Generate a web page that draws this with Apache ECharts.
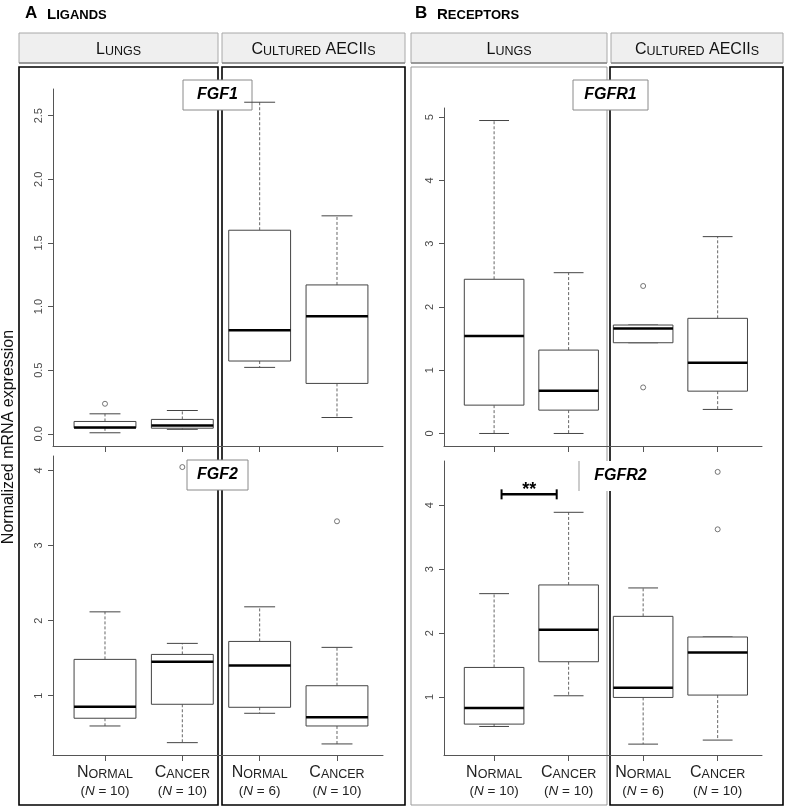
<!DOCTYPE html>
<html><head><meta charset="utf-8">
<script src="https://cdn.jsdelivr.net/npm/echarts@6/dist/echarts.min.js"></script>
<style>html,body{margin:0;padding:0;background:#fff}#c{width:785px;height:808px}</style>
</head><body><div id="c"></div>
<script>
// ---------------- data ----------------
const groups = ['Normal', 'Cancer', 'Normal', 'Cancer'];
const sampleSizes = [10, 10, 6, 10];
const positions = [1, 2, 3, 4];
const sources = ['Lungs', 'Cultured AECIIs'];
const panelTitles = ['A', 'Ligands', 'B', 'Receptors'];
const genes = ['FGF1', 'FGF2', 'FGFR1', 'FGFR2'];
const yLabel = 'Normalized mRNA expression';

// each row: [lower whisker, Q1, median, Q3, upper whisker]
const fgf1Stats = [
  [0.008, 0.047, 0.050, 0.097, 0.157],
  [0.035, 0.044, 0.065, 0.113, 0.183],
  [0.522, 0.572, 0.813, 1.600, 2.606],
  [0.128, 0.396, 0.924, 1.170, 1.713]
];
const fgf1Outliers = [[1, 0.236]];

const fgf2Stats = [
  [0.597, 0.700, 0.854, 1.484, 2.117],
  [0.375, 0.886, 1.452, 1.550, 1.697],
  [0.766, 0.846, 1.404, 1.723, 2.184],
  [0.358, 0.597, 0.713, 1.133, 1.644]
];
const fgf2Outliers = [[2, 4.045], [4, 3.323]];

const fgfr1Stats = [
  [0.000, 0.448, 1.540, 2.437, 4.946],
  [0.000, 0.369, 0.675, 1.318, 2.541],
  [1.434, 1.434, 1.660, 1.714, 1.714],
  [0.380, 0.669, 1.117, 1.820, 3.111]
];
const fgfr1Outliers = [[3, 2.331], [3, 0.728]];

const fgfr2Stats = [
  [0.540, 0.577, 0.828, 1.463, 2.617],
  [1.020, 1.552, 2.053, 2.753, 3.889],
  [0.264, 0.994, 1.146, 2.262, 2.706],
  [0.327, 1.031, 1.698, 1.939, 1.939]
];
const fgfr2Outliers = [[4, 4.521], [4, 3.623]];

const fgf1Ticks = [0, 0.5, 1, 1.5, 2, 2.5];
const fgf2Ticks = [1, 2, 3, 4];
const fgfr1Ticks = [0, 1, 2, 3, 4, 5];
const fgfr2Ticks = [1, 2, 3, 4];

// significance bracket on FGFR2 lungs: [x start, x end, y level]
const sigBracket = [1.10, 1.84, 4.17];
const sigText = '**';

// ---------------- layout ----------------
const FF = '"Liberation Sans", Arial, sans-serif';
const X_MIN = 0.3276, X_MAX = 4.595;
const panels = [
  { stats: fgf1Stats, out: fgf1Outliers, ticks: fgf1Ticks, dec: 1, grid: { left: 53, top: 89, width: 330, height: 357 }, showX: false },
  { stats: fgf2Stats, out: fgf2Outliers, ticks: fgf2Ticks, dec: 0, grid: { left: 53, top: 456, width: 330, height: 299 }, showX: true },
  { stats: fgfr1Stats, out: fgfr1Outliers, ticks: fgfr1Ticks, dec: 0, grid: { left: 444, top: 108, width: 318, height: 338 }, showX: false },
  { stats: fgfr2Stats, out: fgfr2Outliers, ticks: fgfr2Ticks, dec: 0, grid: { left: 444, top: 461, width: 318, height: 294 }, showX: true }
];

function smallCaps(str) {
  let out = '', cur = null, buf = '';
  for (const ch of str) {
    const cls = (ch >= 'a' && ch <= 'z') ? 's' : 'b';
    const c = cls === 's' ? ch.toUpperCase() : ch;
    if (cls !== cur && buf) { out += '{' + cur + '|' + buf + '}'; buf = ''; }
    cur = cls; buf += c;
  }
  if (buf) out += '{' + cur + '|' + buf + '}';
  return out;
}

function renderBox(params, api) {
  const x = api.value(0);
  const unit = api.size([1, 0])[0];
  const hw = unit * 0.4, cw = unit * 0.2;
  const c = v => api.coord([x, v]);
  const cx = c(api.value(1))[0];
  const yLo = c(api.value(1))[1], yQ1 = c(api.value(2))[1], yMed = c(api.value(3))[1],
        yQ3 = c(api.value(4))[1], yHi = c(api.value(5))[1];
  const dash = { stroke: '#666', lineWidth: 1, lineDash: [3, 2] };
  const solid = { stroke: '#444', lineWidth: 1 };
  return { type: 'group', children: [
    { type: 'line', shape: { x1: cx, y1: yQ3, x2: cx, y2: yHi }, style: dash },
    { type: 'line', shape: { x1: cx, y1: yQ1, x2: cx, y2: yLo }, style: dash },
    { type: 'line', shape: { x1: cx - cw, y1: yHi, x2: cx + cw, y2: yHi }, style: solid },
    { type: 'line', shape: { x1: cx - cw, y1: yLo, x2: cx + cw, y2: yLo }, style: solid },
    { type: 'rect', shape: { x: cx - hw, y: yQ3, width: 2 * hw, height: yQ1 - yQ3 }, style: { fill: '#fff', stroke: '#444', lineWidth: 1 } },
    { type: 'line', shape: { x1: cx - hw, y1: yMed, x2: cx + hw, y2: yMed }, style: { stroke: '#000', lineWidth: 2.5 } }
  ] };
}

function renderBracket(params, api) {
  const p1 = api.coord([api.value(0), api.value(2)]);
  const p2 = api.coord([api.value(1), api.value(2)]);
  const st = { stroke: '#000', lineWidth: 2.5 };
  return { type: 'group', children: [
    { type: 'line', shape: { x1: p1[0], y1: p1[1], x2: p2[0], y2: p2[1] }, style: st },
    { type: 'line', shape: { x1: p1[0], y1: p1[1] - 5, x2: p1[0], y2: p1[1] + 5 }, style: { stroke: '#000', lineWidth: 2 } },
    { type: 'line', shape: { x1: p2[0], y1: p2[1] - 5, x2: p2[0], y2: p2[1] + 5 }, style: { stroke: '#000', lineWidth: 2 } },
    { type: 'text', x: (p1[0] + p2[0]) / 2, y: p1[1] - 4, style: { text: sigText, fontSize: 18, fontWeight: 'bold', fontFamily: FF, fill: '#000', align: 'center', verticalAlign: 'middle' } }
  ] };
}

const grids = [], xAxes = [], yAxes = [], series = [];
panels.forEach((p, i) => {
  grids.push(p.grid);
  let lo = Infinity, hi = -Infinity;
  p.stats.forEach(s => { lo = Math.min(lo, s[0]); hi = Math.max(hi, s[4]); });
  p.out.forEach(o => { lo = Math.min(lo, o[1]); hi = Math.max(hi, o[1]); });
  const ext = (hi - lo) * 0.04;
  xAxes.push({
    type: 'value', gridIndex: i, min: X_MIN, max: X_MAX,
    axisLine: { show: true, onZero: false, lineStyle: { color: '#555', width: 1 } },
    axisTick: { show: true, customValues: positions, length: 6, lineStyle: { color: '#555' } },
    splitLine: { show: false },
    axisLabel: {
      show: p.showX, customValues: positions, margin: 9,
      formatter: v => {
        const k = positions.indexOf(v);
        return smallCaps(groups[k]) + '\n{p|(}{i|N}{p| = ' + sampleSizes[k] + ')}';
      },
      rich: {
        b: { fontSize: 16, fontFamily: FF, color: '#222', lineHeight: 17, verticalAlign: 'bottom' },
        s: { fontSize: 12.5, fontFamily: FF, color: '#222', lineHeight: 17, verticalAlign: 'bottom' },
        p: { fontSize: 13.5, fontFamily: FF, color: '#222', lineHeight: 17, verticalAlign: 'bottom' },
        i: { fontSize: 13.5, fontFamily: FF, fontStyle: 'italic', color: '#222', lineHeight: 17, verticalAlign: 'bottom' }
      }
    }
  });
  yAxes.push({
    type: 'value', gridIndex: i, min: lo - ext, max: hi + ext,
    axisLine: { show: true, onZero: false, lineStyle: { color: '#555', width: 1 } },
    axisTick: { show: true, customValues: p.ticks, length: 5, lineStyle: { color: '#555' } },
    splitLine: { show: false },
    axisLabel: { customValues: p.ticks, rotate: 90, fontSize: 11, fontFamily: FF, color: '#4a4a4a', margin: 9,
      formatter: v => v.toFixed(p.dec) }
  });
  series.push({
    type: 'custom', xAxisIndex: i, yAxisIndex: i, renderItem: renderBox,
    encode: { x: 0, y: [1, 2, 3, 4, 5] }, z: 3,
    data: p.stats.map((s, k) => [positions[k]].concat(s))
  });
  series.push({
    type: 'scatter', xAxisIndex: i, yAxisIndex: i, symbol: 'circle', symbolSize: 5, z: 4,
    itemStyle: { color: '#fff', borderColor: '#555', borderWidth: 1 },
    data: p.out.map(o => [o[0], o[1]])
  });
});
series.push({
  type: 'custom', xAxisIndex: 3, yAxisIndex: 3, renderItem: renderBracket, z: 5,
  encode: { x: [0, 1], y: 2 }, data: [sigBracket]
});

// ---------------- decorations ----------------
const stripRich = {
  b: { fontSize: 16, fontFamily: FF, fill: '#111', lineHeight: 18, verticalAlign: 'bottom' },
  s: { fontSize: 12.5, fontFamily: FF, fill: '#111', lineHeight: 18, verticalAlign: 'bottom' }
};
const titleRich = {
  a: { fontSize: 17, fontWeight: 'bold', fontFamily: FF, fill: '#000', lineHeight: 18, verticalAlign: 'bottom' },
  b: { fontSize: 15, fontWeight: 'bold', fontFamily: FF, fill: '#000', lineHeight: 18, verticalAlign: 'bottom' },
  s: { fontSize: 13, fontWeight: 'bold', fontFamily: FF, fill: '#000', lineHeight: 18, verticalAlign: 'bottom' }
};
function strip(x, w, label) {
  return [
    { type: 'rect', z: 0, shape: { x: x, y: 33, width: w, height: 30 }, style: { fill: '#efefef', stroke: '#a8a8a8', lineWidth: 1 } },
    { type: 'line', z: 0, shape: { x1: x, y1: 63, x2: x + w, y2: 63 }, style: { stroke: '#888', lineWidth: 1.5 } },
    { type: 'text', z: 1, x: x + w / 2, y: 49, style: { text: smallCaps(label), rich: stripRich, align: 'center', verticalAlign: 'middle' } }
  ];
}
function frame(x, w, color, lw) {
  return { type: 'rect', z: 0, shape: { x: x, y: 67, width: w, height: 738 }, style: { fill: 'none', stroke: color, lineWidth: lw } };
}
function geneBox(x, y, w, text, border) {
  const els = [{ type: 'rect', z: 1, shape: { x: x, y: y, width: w, height: 30 }, style: { fill: '#fff', stroke: border ? '#8a8a8a' : 'none', lineWidth: 1 } }];
  if (!border) els.push({ type: 'line', z: 1, shape: { x1: x, y1: y, x2: x, y2: y + 30 }, style: { stroke: '#999', lineWidth: 1 } });
  els.push({ type: 'text', z: 1, x: x + w / 2 + (border ? 0 : 4), y: y + 15, style: { text: text, fontSize: 16, fontWeight: 'bold', fontStyle: 'italic', fontFamily: FF, fill: '#000', align: 'center', verticalAlign: 'middle' } });
  return els;
}

const graphics = [].concat(
  [frame(19, 199, '#000', 1.6), frame(222, 183, '#000', 1.6), frame(411, 196, '#999', 1), frame(610, 173, '#000', 1.6)],
  strip(19, 199, sources[0]), strip(222, 183, sources[1]), strip(411, 196, sources[0]), strip(611, 172, sources[1]),
  [
    { type: 'text', x: 25, y: 13, style: { text: '{a|' + panelTitles[0] + '}', rich: titleRich, align: 'left', verticalAlign: 'middle' } },
    { type: 'text', x: 47, y: 13, style: { text: smallCaps(panelTitles[1]), rich: titleRich, align: 'left', verticalAlign: 'middle' } },
    { type: 'text', x: 415, y: 13, style: { text: '{a|' + panelTitles[2] + '}', rich: titleRich, align: 'left', verticalAlign: 'middle' } },
    { type: 'text', x: 437, y: 13, style: { text: smallCaps(panelTitles[3]), rich: titleRich, align: 'left', verticalAlign: 'middle' } },
    { type: 'text', x: 9, y: 437, rotation: Math.PI / 2, style: { text: yLabel, fontSize: 16, fontFamily: FF, fill: '#111', align: 'center', verticalAlign: 'middle' } }
  ],
  geneBox(183, 80, 69, genes[0], true),
  geneBox(187, 460, 61, genes[1], true),
  geneBox(573, 80, 75, genes[2], true),
  geneBox(579, 461, 75, genes[3], false)
);

const chart = echarts.init(document.getElementById('c'), null, { renderer: 'canvas' });
chart.setOption({
  animation: false,
  backgroundColor: '#fff',
  grid: grids,
  xAxis: xAxes,
  yAxis: yAxes,
  series: series,
  graphic: { elements: graphics }
});
</script>
</body></html>
